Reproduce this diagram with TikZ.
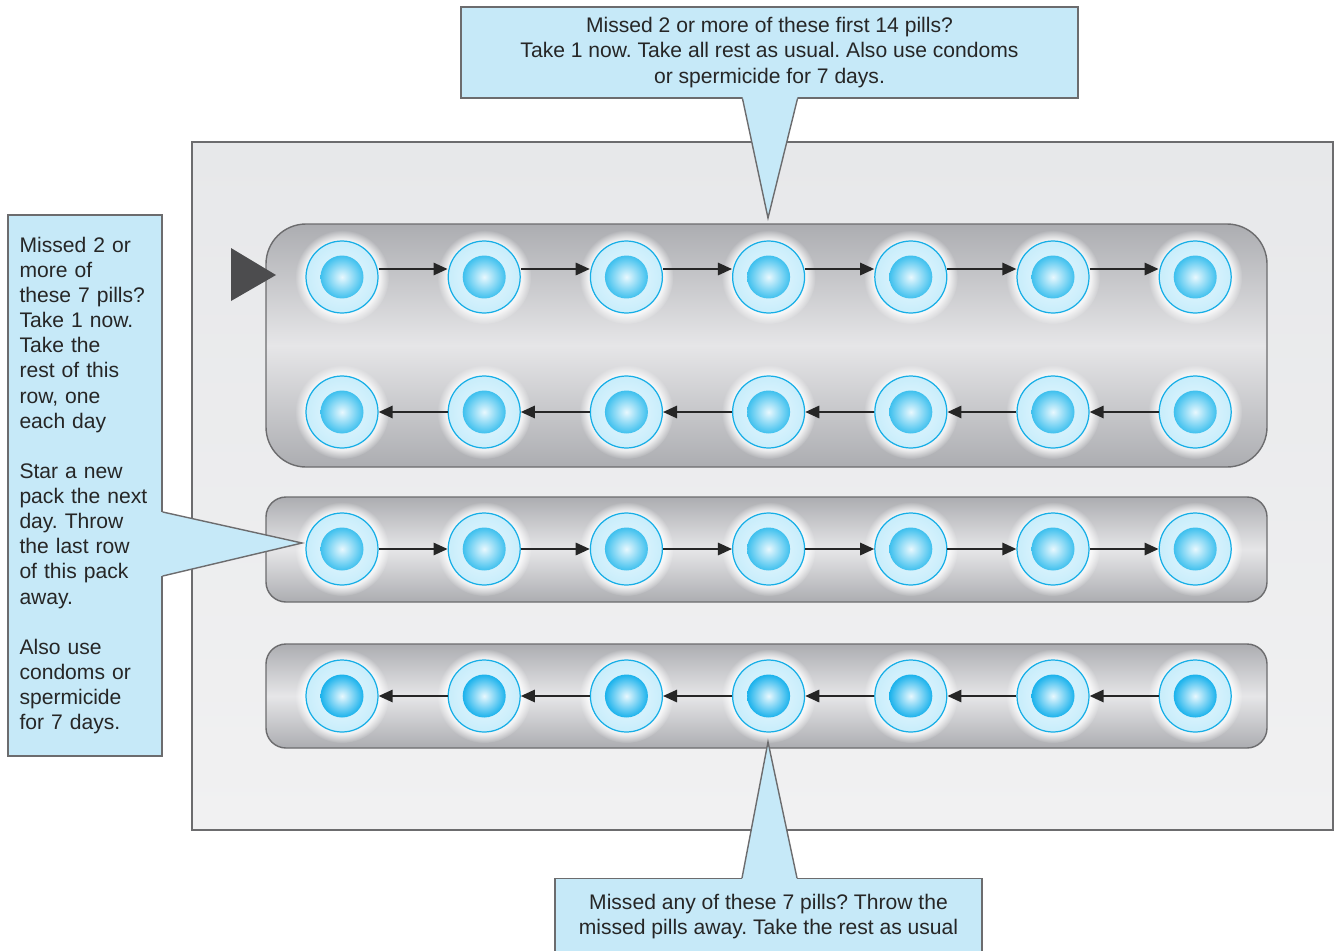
\documentclass[tikz,border=0pt]{standalone}
\usepackage{fontspec}
\setmainfont{Liberation Sans}
\frenchspacing
\usetikzlibrary{positioning,arrows.meta,fadings}
\definecolor{callblue}{RGB}{198,233,248}
\definecolor{pillcyan}{RGB}{22,174,230}
\definecolor{pillrim}{RGB}{200,237,251}
\definecolor{pillpale}{RGB}{232,248,254}
\definecolor{pillcore}{RGB}{62,192,238}
\definecolor{pilldeep}{RGB}{26,178,236}
\definecolor{traydark}{RGB}{172,173,177}
\definecolor{traylight}{RGB}{230,230,232}
\definecolor{panetop}{RGB}{231,232,234}
\definecolor{panebot}{RGB}{241,241,242}
\definecolor{edgegray}{RGB}{108,108,110}
\definecolor{startgray}{RGB}{76,76,78}

\begin{document}
\begin{tikzpicture}[x=0.02cm,y=-0.02cm,font=\fontsize{12}{14.3}\selectfont,
    callout/.style={draw=edgegray,fill=callblue,line width=0.8pt,text=black!85,inner sep=0pt},
    tray/.style={draw=edgegray,line width=0.8pt,top color=traydark,bottom color=traydark,middle color=traylight},
    pill/.style={circle,draw=pillcyan,line width=0.7pt,minimum size=1.44cm,inner sep=0pt,
                 inner color=pillpale,outer color=pillrim},
    pillarrow/.style={-{Triangle[length=8pt,width=7pt]},line width=1.2pt,black!85}]
  \useasboundingbox (0,0) rectangle (1335,950);
  \clip (0,0) rectangle (1335,950);

  % blister card and trays
  \draw[draw=edgegray,line width=0.8pt,top color=panetop,bottom color=panebot] (192,142) rectangle (1333,830);
  \draw[tray,rounded corners=0.8cm] (266,224) rectangle (1267,467);
  \draw[tray,rounded corners=0.4cm] (266,497) rectangle (1267,602);
  \draw[tray,rounded corners=0.4cm] (266,644) rectangle (1267,748);
  \fill[startgray] (231,248) -- (276,275) -- (231,301) -- cycle;

  % pills
  \foreach \r/\yy/\core in {1/277/pillcore,2/412/pillcore,3/549/pillcore,4/696/pilldeep}{
    \foreach \c in {1,...,7}{
      \pgfmathsetmacro\xx{342+142.2*(\c-1)}
      \fill[white,opacity=.8,path fading=circle with fuzzy edge 20 percent] (\xx,\yy) circle[radius=0.94cm];
      \node[pill] (p\r-\c) at (\xx,\yy) {};
      \shade[inner color=pillpale,outer color=\core] (p\r-\c.center) circle[radius=0.43cm];
    }
  }
  \foreach \c [evaluate=\c as \n using int(\c+1)] in {1,...,6}{
    \draw[pillarrow] ([yshift=0.16cm]p1-\c.east) -- ([yshift=0.16cm]p1-\n.west);
    \draw[pillarrow] (p2-\n.west) -- (p2-\c.east);
    \draw[pillarrow] (p3-\c.east) -- (p3-\n.west);
    \draw[pillarrow] (p4-\n.west) -- (p4-\c.east);
  }

  % callouts
  \node[callout,minimum width=12.34cm,minimum height=1.82cm,align=center] (first14) at (769.5,52.5)
    {Missed 2 or more of these first 14 pills?\\Take 1 now. Take all rest as usual. Also use condoms\\or spermicide for 7 days.};
  \node[callout,minimum width=3.08cm,minimum height=10.82cm,text width=2.62cm,align=left] (last7) at (85,485.5)
    {Missed 2 or\\more of\\these 7 pills?\\Take 1 now.\\Take the\\rest of this\\row, one\\each day\\[14.3pt]
     Star a new\\pack the next\\day. Throw\\the last row\\of this pack\\away.\\[14.3pt]
     Also use\\condoms or\\spermicide\\for 7 days.};
  \node[callout,anchor=north,minimum width=8.54cm,minimum height=1.52cm,align=center] (reminder) at (768.5,878)
    {Missed any of these 7 pills? Throw the\\missed pills away. Take the rest as usual};

  % pointers
  \coordinate (tipT) at (768,218);
  \coordinate (tipL) at (302,543);
  \coordinate (tipB) at (768,742);
  \fill[callblue] ([xshift=-0.54cm,yshift=0.03cm]first14.south) -- (tipT) -- ([xshift=0.56cm,yshift=0.03cm]first14.south) -- cycle;
  \draw[edgegray,line width=0.8pt] ([xshift=-0.54cm]first14.south) -- (tipT) -- ([xshift=0.56cm]first14.south);
  \fill[callblue] ([xshift=-0.03cm]last7.east |- 0,512) -- (tipL) -- ([xshift=-0.03cm]last7.east |- 0,576) -- cycle;
  \draw[edgegray,line width=0.8pt] (last7.east |- 0,512) -- (tipL) -- (last7.east |- 0,576);
  \fill[callblue] ([xshift=-0.53cm,yshift=-0.03cm]reminder.north) -- (tipB) -- ([xshift=0.57cm,yshift=-0.03cm]reminder.north) -- cycle;
  \draw[edgegray,line width=0.8pt] ([xshift=-0.53cm]reminder.north) -- (tipB) -- ([xshift=0.57cm]reminder.north);
\end{tikzpicture}
\end{document}
